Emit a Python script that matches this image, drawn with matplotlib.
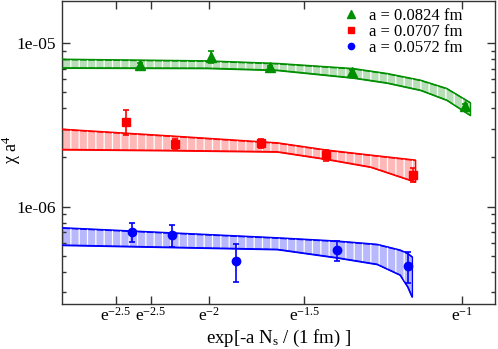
import matplotlib
matplotlib.use("Agg")
import matplotlib.pyplot as plt
from matplotlib.ticker import NullFormatter, LogLocator

plt.rcParams['font.family'] = ['Liberation Serif', 'DejaVu Serif']
plt.rcParams['mathtext.fontset'] = 'custom'
plt.rcParams['mathtext.rm'] = 'Liberation Serif'
plt.rcParams['mathtext.it'] = 'Liberation Serif:italic'
plt.rcParams['hatch.linewidth'] = 0.9

# ---- data: x = exp[-a Ns / (1 fm)] ----
labels = ['a = 0.0824 fm', 'a = 0.0707 fm', 'a = 0.0572 fm']
colors = ['#008F00', '#FF0000', '#0000FF']
tints = ['#B8DEB8', '#FFB8B8', '#B8B8FF']
markers = ['^', 's', 'o']
msizes = [7, 5.5, 6]

x_green = [0.0716, 0.137, 0.1916, 0.267, 0.371]
y_green = [7.34e-6, 8.26e-6, 7.14e-6, 6.65e-6, 4.12e-6]
e_green = [0.2e-6, 0.68e-6, 0.15e-6, 0.25e-6, 0.15e-6]

x_red = [0.0591, 0.104, 0.183, 0.243, 0.3226]
y_red = [3.31e-6, 2.42e-6, 2.44e-6, 2.06e-6, 1.57e-6]
e_red = [0.57e-6, 0.18e-6, 0.145e-6, 0.155e-6, 0.16e-6]

x_blue = [0.0642, 0.1015, 0.160, 0.2534, 0.3185]
y_blue = [6.99e-7, 6.70e-7, 4.68e-7, 5.40e-7, 4.36e-7]
e_blue = [0.91e-7, 1.0e-7, 1.21e-7, 0.76e-7, 0.92e-7]

# fit bands
bx_green = [0.0, 0.133, 0.198, 0.268, 0.299, 0.33, 0.354, 0.3755]
bhi_green = [7.98e-6, 7.80e-6, 7.52e-6, 7.00e-6, 6.53e-6, 5.94e-6, 5.29e-6, 4.34e-6]
blo_green = [7.07e-6, 7.04e-6, 6.84e-6, 6.14e-6, 5.72e-6, 5.16e-6, 4.49e-6, 3.63e-6]

bx_red = [0.0, 0.10, 0.198, 0.244, 0.284, 0.325]
bhi_red = [2.98e-6, 2.71e-6, 2.46e-6, 2.22e-6, 2.07e-6, 1.93e-6]
blo_red = [2.24e-6, 2.21e-6, 2.17e-6, 1.95e-6, 1.75e-6, 1.42e-6]

bx_blue = [0.0, 0.198, 0.253, 0.29, 0.311, 0.318, 0.322]
bhi_blue = [7.44e-7, 6.46e-7, 6.17e-7, 5.89e-7, 5.44e-7, 5.19e-7, 4.95e-7]
blo_blue = [5.83e-7, 5.49e-7, 4.88e-7, 4.45e-7, 3.83e-7, 3.24e-7, 2.82e-7]

xtick_vals = [0.0498, 0.0821, 0.1353, 0.2231, 0.3679]
xtick_labels = [r'$\mathrm{e}^{-2.5}$', r'$\mathrm{e}^{-2.5}$', r'$\mathrm{e}^{-2}$',
                r'$\mathrm{e}^{-1.5}$', r'$\mathrm{e}^{-1}$']
ytick_vals = [1e-6, 1e-5]
ytick_labels = ['1e-06', '1e-05']

fig = plt.figure(figsize=(4.98, 3.49), dpi=100)
ax = fig.add_axes([0.1245, 0.128, 0.8695, 0.869])
ax.set_yscale('log')

bands = [(bx_green, bhi_green, blo_green), (bx_red, bhi_red, blo_red), (bx_blue, bhi_blue, blo_blue)]
for (bx, bhi, blo), c, t in zip(bands, colors, tints):
    ax.fill_between(bx, blo, bhi, facecolor=t, edgecolor=c, linewidth=1.0, zorder=1)
    ax.fill_between(bx, blo, bhi, facecolor='none', edgecolor='white', hatch='||',
                    linewidth=0, zorder=2)
    ax.plot(bx, bhi, color=c, lw=1.0, zorder=3)
    ax.plot(bx, blo, color=c, lw=1.0, zorder=3)

series = [(x_green, y_green, e_green), (x_red, y_red, e_red), (x_blue, y_blue, e_blue)]
for (xs, ys, es), c, m, ms, lab in zip(series, colors, markers, msizes, labels):
    ax.errorbar(xs, ys, yerr=es, fmt=m, color=c, ms=ms, elinewidth=1.2,
                capsize=2.5, capthick=1.2, label=lab, zorder=5)

ax.set_xlim(0, 0.3985)
ax.set_ylim(2.53e-7, 1.81e-5)

ax.set_xticks(xtick_vals)
ax.set_xticklabels(xtick_labels)
ax.set_yticks(ytick_vals)
ax.set_yticklabels(ytick_labels, fontsize=12.5)
ax.yaxis.set_minor_locator(LogLocator(base=10, subs=range(2, 10)))
ax.yaxis.set_minor_formatter(NullFormatter())

ax.tick_params(which='both', direction='in', top=True, right=True, color='#333333')
ax.tick_params(axis='x', labelsize=12.5)
ax.tick_params(which='major', length=6, width=1)
ax.tick_params(which='minor', length=3.2, width=1)
ax.tick_params(axis='x', pad=2)
ax.tick_params(axis='y', pad=4)
for s in ax.spines.values():
    s.set_linewidth(1.0)
    s.set_color('#333333')

ax.set_xlabel(r'exp[-a N$_\mathrm{s}$ / (1 fm) ]', fontsize=13.5)
ax.xaxis.set_label_coords(0.5, -0.078)
ax.set_ylabel(r'χ a$^{4}$', fontsize=13)
ax.yaxis.set_label_coords(-0.09, 0.51)

handles, labs = ax.get_legend_handles_labels()
handles = [h[0] for h in handles]
ax.legend(handles, labs, loc='upper right', bbox_to_anchor=(0.955, 1.02), frameon=False,
          fontsize=12, markerscale=0.75, handlelength=1.0, handletextpad=0.55,
          labelspacing=0.0, borderpad=0.3)

fig.savefig('out.png', dpi=100)
